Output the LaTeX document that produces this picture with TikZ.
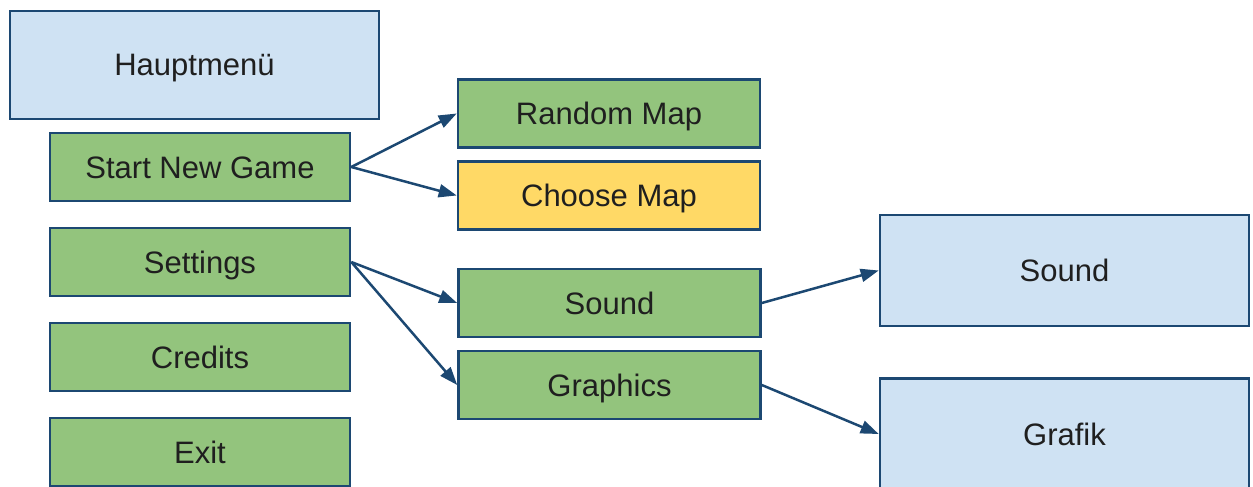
\documentclass[tikz,border=0pt]{standalone}
\usepackage{fontspec}
\setmainfont{Liberation Sans}
\usetikzlibrary{arrows.meta}
\definecolor{edgeblue}{HTML}{1C4872}
\definecolor{paleblue}{HTML}{CFE2F3}
\definecolor{menugreen}{HTML}{93C47D}
\definecolor{pickyellow}{HTML}{FFD966}
\tikzset{
  box/.style={draw=edgeblue, line width=2.6pt, rectangle, inner sep=0pt,
    text height=22pt, text depth=0pt,
    font=\fontsize{31}{36}\selectfont, text=black!88},
  screen/.style={box, fill=paleblue, minimum width=369pt, minimum height=108pt},
  item/.style={box, fill=menugreen, minimum width=300pt, minimum height=68pt},
  subitem/.style={box, fill=menugreen, minimum width=302pt, minimum height=68pt},
  link/.style={draw=edgeblue, line width=2.5pt,
    -{Triangle[length=18pt,width=13pt]}}
}
\begin{document}
\begin{tikzpicture}[x=1pt,y=-1pt]
  \useasboundingbox (0,0) rectangle (1253,487);
  % main menu column
  \node[screen] (main) at (194.5,65) {Hauptmenü};
  \node[item] (newgame) at (200,167) {Start New Game};
  \node[item] (settings) at (200,262) {Settings};
  \node[item] (credits) at (200,357) {Credits};
  \node[item] (exit) at (200,452) {Exit};
  % sub menus
  \node[subitem] (random) at (609,113.5) {Random Map};
  \node[subitem, fill=pickyellow] (choose) at (609,195.5) {Choose Map};
  \node[subitem] (sound) at (609.5,303) {Sound};
  \node[subitem] (graphics) at (609.5,385) {Graphics};
  % settings screens
  \node[screen, minimum height=111pt] (soundscr) at (1064.5,270.5) {Sound};
  \node[screen, minimum height=111pt] (gfxscr) at (1064.5,434) {Grafik};
  % connectors
  \draw[link] (newgame.east) -- (random.west);
  \draw[link] (newgame.east) -- (choose.west);
  \draw[link] (settings.east) -- (sound.west);
  \draw[link] (settings.east) -- (graphics.west);
  \draw[link] (sound.east) -- (soundscr.west);
  \draw[link] (graphics.east) -- (gfxscr.west);
\end{tikzpicture}
\end{document}
